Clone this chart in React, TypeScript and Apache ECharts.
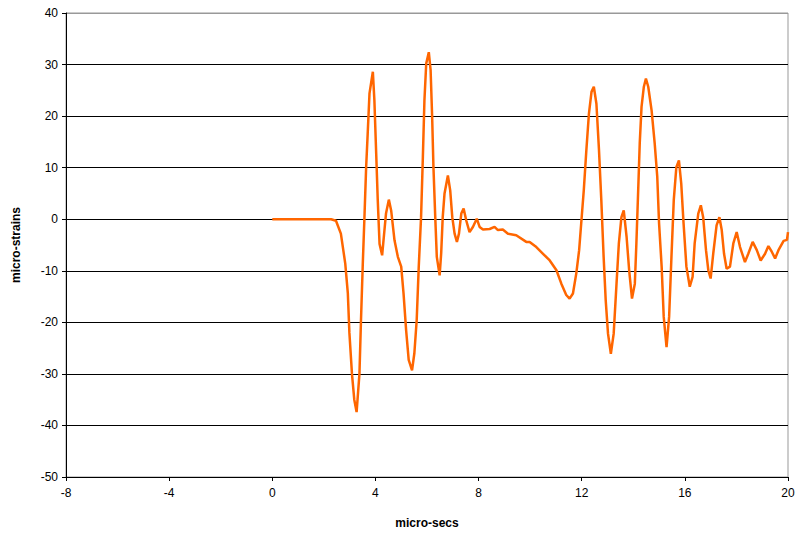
import React, { useEffect, useRef } from "react";
import * as echarts from "echarts";

const timeUs: number[] = [
  0, 2.28, 2.47, 2.66, 2.83, 2.93, 2.99, 3.09, 3.18, 3.27, 3.38, 3.44, 3.51, 3.57, 3.64, 3.7, 3.77, 3.9, 3.96,
  4.03, 4.09, 4.16, 4.26, 4.35, 4.41, 4.52, 4.61, 4.74, 4.87, 5.0, 5.09, 5.19, 5.29, 5.42, 5.51, 5.6, 5.68,
  5.77, 5.84, 5.9, 5.97, 6.07, 6.14, 6.2, 6.25, 6.32, 6.38, 6.49, 6.55, 6.61, 6.68, 6.81, 6.9, 6.98, 7.07,
  7.16, 7.24, 7.33, 7.42, 7.52, 7.65, 7.78, 7.93, 8.04, 8.17, 8.43, 8.62, 8.75, 8.94, 9.14, 9.46, 9.85,
  9.98, 10.24, 10.5, 10.76, 11.02, 11.21, 11.4, 11.53, 11.66, 11.79, 11.9, 11.99, 12.08, 12.18, 12.28,
  12.38, 12.47, 12.57, 12.67, 12.76, 12.85, 12.93, 13.02, 13.13, 13.24, 13.35, 13.44, 13.54, 13.63, 13.74,
  13.84, 13.95, 14.06, 14.12, 14.19, 14.25, 14.32, 14.41, 14.49, 14.58, 14.71, 14.83, 14.93, 15.0, 15.1,
  15.18, 15.29, 15.39, 15.48, 15.57, 15.67, 15.77, 15.86, 15.95, 16.06, 16.19, 16.3, 16.38, 16.52, 16.62,
  16.71, 16.82, 16.91, 17.0, 17.1, 17.23, 17.34, 17.43, 17.52, 17.62, 17.75, 17.88, 18.01, 18.14, 18.33,
  18.46, 18.63, 18.79, 18.94, 19.11, 19.24, 19.37, 19.5, 19.63, 19.83, 19.96, 20.0,
];

const microStrains: number[] = [
  0, 0, -0.3, -2.8, -8.6, -14.4, -22, -30, -35, -37.4, -30, -19.6, -8.6, -0.2, 10.1, 16.6, 24.4, 28.6, 23,
  12.7, 3.7, -4.8, -7, -2.1, 1.1, 3.8, 1.7, -4.1, -7.3, -9.2, -14.4, -21.5, -27.3, -29.3, -26, -19.6, -9.2,
  0.4, 12.1, 23, 30.2, 32.4, 28.9, 19.8, 10.1, 0.4, -7.3, -10.9, -6.6, 0.4, 5, 8.5, 5.6, 0.4, -2.8,
  -4.4, -2.8, 1.1, 2.1, -0.2, -2.5, -1.5, 0.1, -1.5, -2, -1.9, -1.5, -2.1, -2, -2.8, -3.1, -4.4,
  -4.4, -5.4, -6.7, -8, -9.9, -12.5, -14.7, -15.4, -14.4, -10.5, -6, -0.2, 5.6, 13.4, 20.5,
  24.7, 25.7, 22.4, 13.4, 3.7, -7.3, -15.7, -22.2, -26.1, -22.2, -12.5, -4.7, 0.4, 1.7, -3.4,
  -9.9, -15.4, -12.5, -4.7, 5.6, 14.7, 21.8, 25.7, 27.3, 25.7, 21.1, 14.7, 8.2, -0.8, -9.2,
  -18.9, -24.8, -18.9, -7.3, 3.7, 10.1, 11.4, 6.9, -0.8, -9.2, -13.1, -11.2, -4.7, 1.1, 2.7,
  0.4, -6, -9.9, -11.5, -6.7, -1.2, 0.4, -2.1, -6.7, -9.6, -9.2, -4.7, -2.5, -5.4, -8.3,
  -6.7, -4.4, -6, -8, -6.7, -5.2, -6.3, -7.6, -6, -4.2, -4, -2.5,
];

const xTicks = { min: -8, max: 20, interval: 4 };
const yTicks = { min: -50, max: 40, interval: 10 };

export default function App() {
  const ref = useRef<HTMLDivElement>(null);
  useEffect(() => {
    if (!ref.current) return;
    const chart = echarts.init(ref.current, null, { renderer: "svg" });
    const data = timeUs.map((t, i) => [t, microStrains[i]]);
    const font = "Arial, 'Liberation Sans', sans-serif";
    const gridColors = ["#000", "#000", "#000", "#000", "#000", "#000", "#000", "#000", "#000", "#999"];
    chart.setOption({
      animation: false,
      backgroundColor: "#fff",
      grid: {
        left: 66,
        right: 10,
        top: 13,
        bottom: 56,
        show: true,
        borderColor: "#999",
        borderWidth: 1,
        backgroundColor: "transparent",
      },
      xAxis: {
        type: "value",
        min: xTicks.min,
        max: xTicks.max,
        interval: xTicks.interval,
        name: "micro-secs",
        nameLocation: "middle",
        nameGap: 40,
        nameTextStyle: { fontFamily: font, fontSize: 12, fontWeight: "bold", color: "#000" },
        axisLine: { onZero: false, lineStyle: { color: "#000", width: 1 } },
        axisTick: { show: true, length: 4, lineStyle: { color: "#000" } },
        axisLabel: { fontFamily: font, fontSize: 12, color: "#000", margin: 10 },
        splitLine: { show: false },
      },
      yAxis: {
        type: "value",
        min: yTicks.min,
        max: yTicks.max,
        interval: yTicks.interval,
        name: "micro-strains",
        nameLocation: "middle",
        nameRotate: 90,
        nameGap: 44,
        nameTextStyle: { fontFamily: font, fontSize: 12, fontWeight: "bold", color: "#000" },
        axisLine: { onZero: false, lineStyle: { color: "#000", width: 1 } },
        axisTick: { show: true, length: 4, lineStyle: { color: "#000" } },
        axisLabel: { fontFamily: font, fontSize: 12, color: "#000", margin: 8 },
        splitLine: { show: true, lineStyle: { color: gridColors, width: 1 } },
      },
      series: [
        {
          type: "line",
          data,
          showSymbol: false,
          symbol: "none",
          lineStyle: { color: "#FF6600", width: 2.5 },
          itemStyle: { color: "#FF6600" },
        },
      ],
    });
    return () => chart.dispose();
  }, []);
  return <div ref={ref} style={{ width: 798, height: 534, position: "absolute", left: 0, top: 0 }} />;
}
